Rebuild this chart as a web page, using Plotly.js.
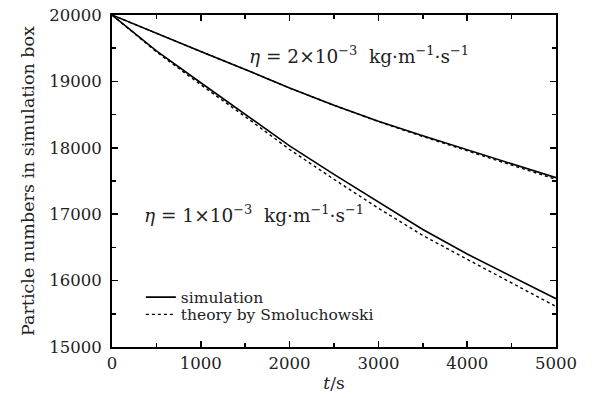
<!DOCTYPE html>
<html>
<head>
<meta charset="utf-8">
<script src="https://cdn.plot.ly/plotly-3.0.1.min.js"></script>
<style>html,body{margin:0;padding:0;background:#fff;}#chart{width:609px;height:398px;}</style>
</head>
<body>
<div id="chart"></div>
<script>
const time = [0, 500, 1000, 1500, 2000, 2500, 3000, 3500, 4000, 4500, 5000];
const simEta2 = [20000, 19720, 19450, 19180, 18900, 18640, 18400, 18180, 17970, 17760, 17550];
const theoryEta2 = [20000, 19720, 19450, 19180, 18900, 18640, 18395, 18170, 17955, 17740, 17525];
const simEta1 = [20000, 19460, 18980, 18510, 18030, 17600, 17180, 16770, 16400, 16060, 15727];
const theoryEta1 = [20000, 19445, 18950, 18470, 17975, 17525, 17090, 16680, 16320, 15960, 15610];
const legendNames = ['simulation', 'theory by Smoluchowski'];
const labelEta2 = '<i>η</i> = 2×10<sup>−3</sup>  kg·m<sup>−1</sup>·s<sup>−1</sup>';
const labelEta1 = '<i>η</i> = 1×10<sup>−3</sup>  kg·m<sup>−1</sup>·s<sup>−1</sup>';

const FONT = "'DejaVu Serif', 'Liberation Serif', serif";
const TXT = '#222';
const traces = [
  {x: time, y: simEta2, mode: 'lines', name: legendNames[0], legend: 'legend', showlegend: true,
   line: {color: '#000', width: 1.6, dash: 'solid'}},
  {x: time, y: theoryEta2, mode: 'lines', name: legendNames[1], legend: 'legend2', showlegend: true,
   line: {color: '#000', width: 1.4, dash: 'dot'}},
  {x: time, y: simEta1, mode: 'lines', name: legendNames[0], showlegend: false,
   line: {color: '#000', width: 1.6, dash: 'solid'}},
  {x: time, y: theoryEta1, mode: 'lines', name: legendNames[1], showlegend: false,
   line: {color: '#000', width: 1.4, dash: 'dot'}}
];
const axisCommon = {
  showgrid: false, zeroline: false, showline: true, linecolor: '#000', linewidth: 2,
  mirror: 'ticks', ticks: 'inside', ticklen: 6, tickwidth: 1.5, tickcolor: '#000',
  tickformat: 'd', separatethousands: false,
  tickfont: {family: FONT, size: 16.5, color: TXT}
};
const legendCommon = {xanchor: 'left', yanchor: 'middle', bgcolor: 'rgba(0,0,0,0)',
  font: {family: FONT, size: 15.5, color: TXT}, itemwidth: 30, borderwidth: 0, tracegroupgap: 0};
const layout = {
  width: 609, height: 398,
  margin: {l: 112, r: 53, t: 15, b: 51, pad: 0},
  paper_bgcolor: '#fff', plot_bgcolor: '#fff',
  font: {family: FONT, color: TXT},
  showlegend: true,
  legend: Object.assign({}, legendCommon, {x: 0.065, y: 0.149}),
  legend2: Object.assign({}, legendCommon, {x: 0.065, y: 0.097}),
  xaxis: Object.assign({}, axisCommon, {
    range: [0, 5000], dtick: 1000, tick0: 0,
    minor: {dtick: 500, ticks: 'inside', ticklen: 4, tickwidth: 1.5, tickcolor: '#000', showgrid: false},
    title: {text: '<i>t</i>/s', font: {family: FONT, size: 17, color: TXT}, standoff: 5}
  }),
  yaxis: Object.assign({}, axisCommon, {
    range: [15000, 20000], dtick: 1000, tick0: 15000, ticklabelstandoff: 5,
    minor: {dtick: 500, ticks: 'inside', ticklen: 4, tickwidth: 1.5, tickcolor: '#000', showgrid: false},
    title: {text: 'Particle numbers in simulation box', font: {family: FONT, size: 17.5, color: TXT}, standoff: 10}
  }),
  annotations: [
    {xref: 'x', yref: 'y', x: 1520, y: 19400, xanchor: 'left', yanchor: 'middle', text: labelEta2, showarrow: false,
     font: {family: FONT, size: 18.5, color: TXT}},
    {xref: 'x', yref: 'y', x: 340, y: 17000, xanchor: 'left', yanchor: 'middle', text: labelEta1, showarrow: false,
     font: {family: FONT, size: 18.5, color: TXT}}
  ]
};
Plotly.newPlot('chart', traces, layout, {displayModeBar: false, staticPlot: true});
</script>
</body>
</html>
